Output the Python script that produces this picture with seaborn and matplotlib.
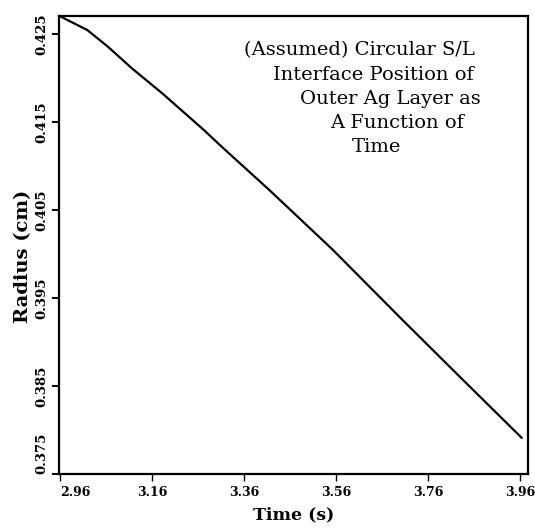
import matplotlib
matplotlib.use("Agg")
import matplotlib.pyplot as plt
import seaborn as sns
import pandas as pd

# values
time_s = [2.962, 3.019, 3.064, 3.117, 3.182, 3.271, 3.314, 3.417, 3.553, 3.703, 3.836, 3.964]
radius_cm = [0.4270, 0.4255, 0.4236, 0.4211, 0.4183, 0.4142, 0.4121, 0.4072, 0.4005, 0.3926, 0.3857, 0.3791]

x_ticks = [2.96, 3.16, 3.36, 3.56, 3.76, 3.96]
x_tick_labels = ["2.96", "3.16", "3.36", "3.56", "3.76", "3.96"]
y_ticks = [0.375, 0.385, 0.395, 0.405, 0.415, 0.425]
y_tick_labels = ["0.375", "0.385", "0.395", "0.405", "0.415", "0.425"]

note_lines = ["(Assumed) Circular S/L", "Interface Position of",
              "Outer Ag Layer as", "A Function of", "Time"]

df = pd.DataFrame({"Time": time_s, "Radius": radius_cm})

sns.set_theme(style="ticks")
plt.rcParams["font.family"] = ["DejaVu Serif", "DejaVu Sans"]
plt.rcParams["text.color"] = "black"
plt.rcParams["axes.labelcolor"] = "black"

fig = plt.figure(figsize=(5.35, 5.29), dpi=100)
ax = fig.add_axes([0.1103, 0.104, 0.8766, 0.866])

sns.lineplot(data=df, x="Time", y="Radius", color="black", linewidth=1.6, ax=ax)

ax.set_xlim(2.9578, 3.9774)
ax.set_ylim(0.375, 0.4271)
ax.set_xticks(x_ticks)
ax.set_xticklabels(x_tick_labels, fontsize=9, fontweight="bold")
ax.set_yticks(y_ticks)
ax.set_yticklabels(y_tick_labels, fontsize=9.5, fontweight="bold", rotation=90, va="center")
ax.minorticks_off()
ax.tick_params(axis="x", which="major", direction="out", length=5, width=1.0,
               colors="black", labelcolor="black", pad=4)
ax.tick_params(axis="y", which="major", direction="out", length=5, width=1.4,
               colors="black", labelcolor="black", pad=3)

# first x label sits to the right of its tick, last y label above its tick
ax.get_xticklabels()[0].set_ha("left")
ax.get_yticklabels()[0].set_va("bottom")

ax.set_xlabel("Time (s)", fontsize=12.5, fontweight="bold", labelpad=5)
ax.set_ylabel("Radius (cm)", fontsize=14, fontweight="bold")
ax.yaxis.set_label_coords(-0.058, 0.474)

for side in ["left", "bottom", "right", "top"]:
    ax.spines[side].set_linewidth(1.6)
    ax.spines[side].set_color("black")

note_pos = [(0.394, 0.926), (0.456, 0.871), (0.514, 0.819), (0.578, 0.766), (0.625, 0.714)]
for line, (tx, ty) in zip(note_lines, note_pos):
    ax.text(tx, ty, line, transform=ax.transAxes, fontsize=14,
            ha="left", va="center", color="black")

plt.savefig("out.png", dpi=100)
plt.close()
